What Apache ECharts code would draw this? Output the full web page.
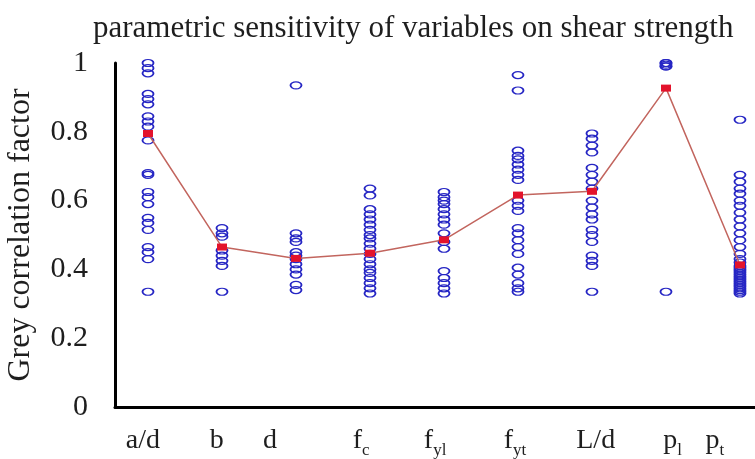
<!DOCTYPE html>
<html>
<head>
<meta charset="utf-8">
<script src="https://cdn.jsdelivr.net/npm/echarts@6/dist/echarts.min.js"></script>
<style>
html,body{margin:0;padding:0;background:#fff;overflow:hidden;}
#chart{width:755px;height:459px;}
</style>
</head>
<body>
<div id="chart"></div>
<script>
// ---- data ----
const categories = ['a/d', 'b', 'd', 'f_c', 'f_yl', 'f_yt', 'L/d', 'p_l', 'p_t'];
const adValues  = [1.0, 0.985, 0.97, 0.91, 0.895, 0.88, 0.845, 0.83, 0.815, 0.775, 0.68, 0.675, 0.625, 0.61, 0.59, 0.55, 0.535, 0.515, 0.465, 0.45, 0.43, 0.335];
const bValues   = [0.52, 0.505, 0.495, 0.455, 0.44, 0.425, 0.41, 0.335];
const dValues   = [0.935, 0.505, 0.49, 0.48, 0.45, 0.44, 0.43, 0.415, 0.4, 0.385, 0.355, 0.34];
const fcValues  = [0.635, 0.615, 0.575, 0.56, 0.545, 0.53, 0.515, 0.5, 0.49, 0.475, 0.46, 0.445, 0.43, 0.415, 0.4, 0.39, 0.375, 0.36, 0.345, 0.33];
const fylValues = [0.625, 0.61, 0.6, 0.59, 0.575, 0.56, 0.545, 0.53, 0.505, 0.48, 0.46, 0.395, 0.375, 0.36, 0.345, 0.33];
const fytValues = [0.965, 0.92, 0.745, 0.73, 0.72, 0.705, 0.69, 0.675, 0.66, 0.6, 0.585, 0.57, 0.52, 0.505, 0.485, 0.465, 0.445, 0.405, 0.385, 0.36, 0.345, 0.335];
const ldValues  = [0.795, 0.78, 0.76, 0.74, 0.695, 0.675, 0.655, 0.635, 0.6, 0.58, 0.56, 0.545, 0.515, 0.5, 0.48, 0.44, 0.425, 0.41, 0.335];
const plValues  = [1.0, 1.0, 0.995, 0.99, 0.99, 0.335];
const ptValues  = [0.835, 0.675, 0.655, 0.635, 0.62, 0.6, 0.585, 0.565, 0.545, 0.525, 0.505, 0.485, 0.465, 0.445, 0.43, 0.42, 0.41, 0.405, 0.4, 0.395, 0.39, 0.385, 0.38, 0.375, 0.37, 0.365, 0.36, 0.355, 0.35, 0.345, 0.34, 0.335, 0.33];
const meanValues = [0.795, 0.465, 0.432, 0.447, 0.486, 0.616, 0.627, 0.927, 0.413];
const titleText = 'parametric sensitivity of variables on shear strength';
const yAxisTitle = 'Grey correlation factor';

// ---- build ----
const columns = [adValues, bValues, dValues, fcValues, fylValues, fytValues, ldValues, plValues, ptValues];
const scatterData = [];
columns.forEach((vals, i) => vals.forEach(v => scatterData.push([i, v])));
const meanData = meanValues.map((v, i) => [i, v]);

// label anchors (axis units) as placed in the reference, slightly off the columns
const labelAnchors = [-0.07, 0.93, 1.65, 2.88, 3.88, 4.96, 6.05, 7.09, 7.66];
const richLabels = categories.map(c => {
  const k = c.indexOf('_');
  return k < 0 ? '{n|' + c + '}' : '{n|' + c.slice(0, k) + '}{s|' + c.slice(k + 1) + '}';
});

const FONT = 'Liberation Serif';
const chart = echarts.init(document.getElementById('chart'), null, {renderer: 'canvas'});
chart.setOption({
  animation: false,
  backgroundColor: '#fff',
  title: {
    text: titleText,
    left: 88, top: 8,
    textStyle: {fontFamily: FONT, fontSize: 31, fontWeight: 'normal', color: '#1e1e1e'}
  },
  grid: {left: 115, right: 0, top: 63, bottom: 52, containLabel: false, outerBoundsMode: 'none'},
  xAxis: {
    type: 'value',
    min: -0.446, max: 8.203,
    axisLine: {show: true, onZero: false, lineStyle: {color: '#000', width: 3}},
    axisTick: {show: false},
    splitLine: {show: false},
    axisLabel: {
      customValues: labelAnchors,
      margin: 18,
      formatter: function (v) {
        let best = 0, bd = 1e9;
        labelAnchors.forEach((p, i) => { const d = Math.abs(p - v); if (d < bd) { bd = d; best = i; } });
        return richLabels[best];
      },
      rich: {
        n: {fontFamily: FONT, fontSize: 28, color: '#1e1e1e', lineHeight: 30, verticalAlign: 'bottom'},
        s: {fontFamily: FONT, fontSize: 17, color: '#1e1e1e', lineHeight: 30, verticalAlign: 'bottom', padding: [0, 0, -4, 0]}
      }
    }
  },
  yAxis: {
    type: 'value',
    min: 0, max: 1, interval: 0.2,
    name: yAxisTitle,
    nameLocation: 'middle',
    nameGap: 78,
    nameTextStyle: {fontFamily: FONT, fontSize: 32, color: '#1e1e1e'},
    axisLine: {show: true, onZero: false, lineStyle: {color: '#000', width: 3}},
    axisTick: {show: false},
    splitLine: {show: false},
    axisLabel: {fontFamily: FONT, fontSize: 30, color: '#1e1e1e', margin: 27}
  },
  series: [
    {
      type: 'scatter',
      data: scatterData,
      symbol: 'circle',
      symbolSize: [11, 7],
      clip: true,
      itemStyle: {color: 'rgba(255,255,255,0)', borderColor: '#2626c4', borderWidth: 1.5, opacity: 1},
      z: 2
    },
    {
      type: 'line',
      data: meanData,
      symbol: 'rect',
      symbolSize: [10, 7],
      showSymbol: true,
      lineStyle: {color: '#c2655e', width: 1.5},
      itemStyle: {color: '#e3132c', borderWidth: 0},
      z: 3
    }
  ]
});
</script>
</body>
</html>
